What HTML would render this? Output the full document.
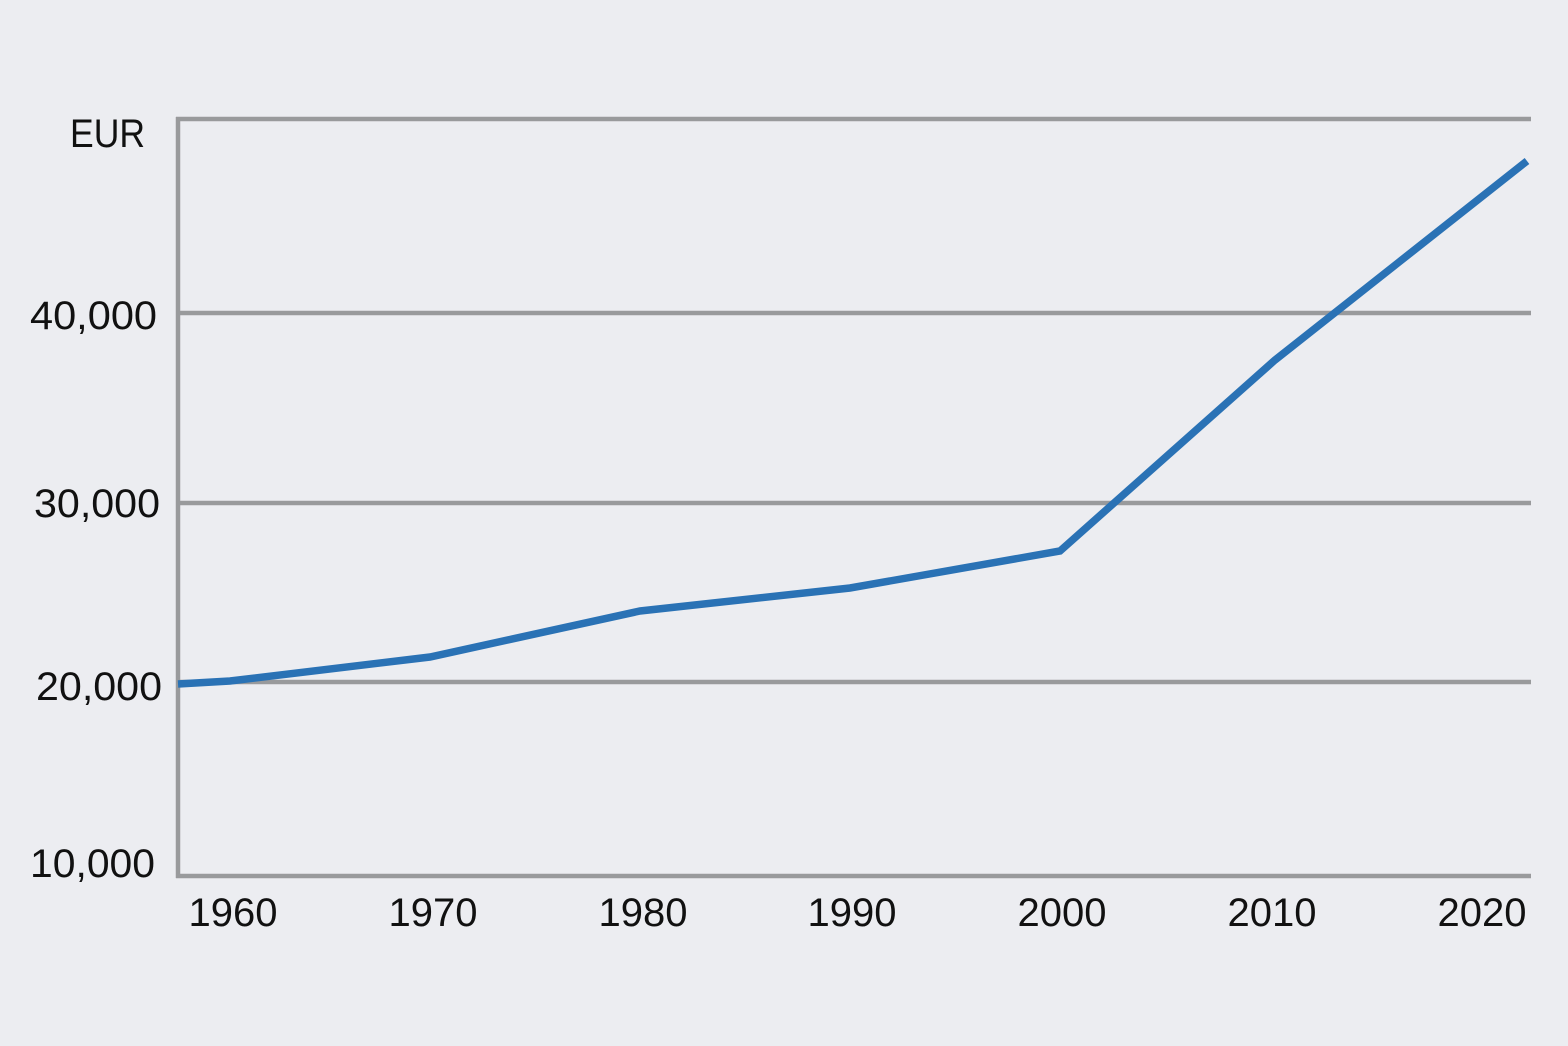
<!DOCTYPE html>
<html><head><meta charset="utf-8"><style>
html,body{margin:0;padding:0;background:#ecedf1;}
svg{display:block;}
text{font-family:"Liberation Sans",sans-serif;font-size:40px;fill:#111;}
</style></head><body>
<svg width="1568" height="1046" viewBox="0 0 1568 1046">
<rect width="1568" height="1046" fill="#ecedf1"/>
<g stroke="#999a9c" stroke-width="4.5" fill="none">
<line x1="176" y1="119" x2="1531" y2="119"/>
<line x1="176" y1="313" x2="1531" y2="313"/>
<line x1="176" y1="503" x2="1531" y2="503"/>
<line x1="176" y1="682" x2="1531" y2="682"/>
<line x1="176" y1="876" x2="1531" y2="876"/>
<line x1="178" y1="117" x2="178" y2="878"/>
</g>
<polyline fill="none" stroke="#2a72b5" stroke-width="7.5" stroke-linejoin="miter"
points="178,684 230,681 430,657 640,611 850,588 1060,551 1275,360 1527,161"/>
<text x="70" y="147" textLength="75" lengthAdjust="spacingAndGlyphs">EUR</text>
<text x="30" y="329" textLength="127" lengthAdjust="spacingAndGlyphs">40,000</text>
<text x="34" y="517" textLength="126" lengthAdjust="spacingAndGlyphs">30,000</text>
<text x="36" y="700" textLength="126" lengthAdjust="spacingAndGlyphs">20,000</text>
<text x="30" y="877" textLength="125" lengthAdjust="spacingAndGlyphs">10,000</text>
<g text-anchor="middle">
<text x="233" y="926">1960</text>
<text x="433" y="926">1970</text>
<text x="643" y="926">1980</text>
<text x="852" y="926">1990</text>
<text x="1062" y="926">2000</text>
<text x="1272" y="926">2010</text>
<text x="1482" y="926">2020</text>
</g>
</svg>
</body></html>
